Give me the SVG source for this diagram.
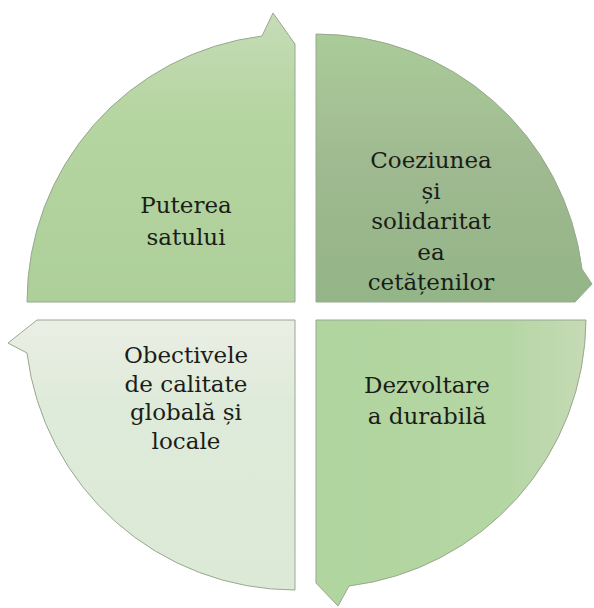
<svg xmlns="http://www.w3.org/2000/svg" width="594" height="608" viewBox="0 0 594 608">
<style>
.seg{stroke:#98a890;stroke-width:1}
text{font-family:'DejaVu Serif',serif;font-size:23px;fill:#1a1d18;text-anchor:middle}
</style>
<defs>
<linearGradient id="gTL" x1="0" y1="0" x2="0" y2="1">
<stop offset="0" stop-color="#c6dcb7"/><stop offset="0.35" stop-color="#b5d5a1"/><stop offset="1" stop-color="#adcf99"/>
</linearGradient>
<linearGradient id="gTR" x1="0" y1="0" x2="0" y2="1">
<stop offset="0" stop-color="#aacc99"/><stop offset="0.5" stop-color="#9fb990"/><stop offset="1" stop-color="#93b587"/>
</linearGradient>
<linearGradient id="gBR" x1="0" y1="0" x2="1" y2="0">
<stop offset="0" stop-color="#b1d59f"/><stop offset="0.7" stop-color="#b4d6a3"/><stop offset="1" stop-color="#c6dab6"/>
</linearGradient>
<linearGradient id="gBL" x1="0" y1="0" x2="0" y2="1">
<stop offset="0" stop-color="#ebeee4"/><stop offset="0.3" stop-color="#dfebda"/><stop offset="1" stop-color="#dbe9d6"/>
</linearGradient>
</defs>
<rect width="594" height="608" fill="#ffffff"/>
<g id="node-puterea">
<path class="seg" fill="url(#gTL)" d="M295,302 L27,302 A268,268 0 0 1 262,36 L273,13 L295,44 Z"/>
<text x="186" y="213">Puterea</text>
<text x="186" y="245">satului</text>
</g>
<g id="node-coeziunea">
<path class="seg" fill="url(#gTR)" d="M316,302 L316,34 A268,268 0 0 1 582,269 L592,284 L575,302 Z"/>
<text x="431" y="168">Coeziunea</text>
<text x="431" y="199">și</text>
<text x="431" y="229">solidaritat</text>
<text x="431" y="260">ea</text>
<text x="431" y="290">cetățenilor</text>
</g>
<g id="node-dezvoltare">
<path class="seg" fill="url(#gBR)" d="M316,320 L586,320 A270,270 0 0 1 349,586 L338,606 L316,583 Z"/>
<text x="427" y="393">Dezvoltare</text>
<text x="427" y="424">a durabilă</text>
</g>
<g id="node-obectivele">
<path class="seg" fill="url(#gBL)" d="M295,320 L295,590 A270,270 0 0 1 27,353 L8,343 L37,320 Z"/>
<text x="186" y="363">Obectivele</text>
<text x="186" y="392">de calitate</text>
<text x="186" y="420">globală și</text>
<text x="186" y="449">locale</text>
</g>
<g id="connectors"></g>
</svg>
